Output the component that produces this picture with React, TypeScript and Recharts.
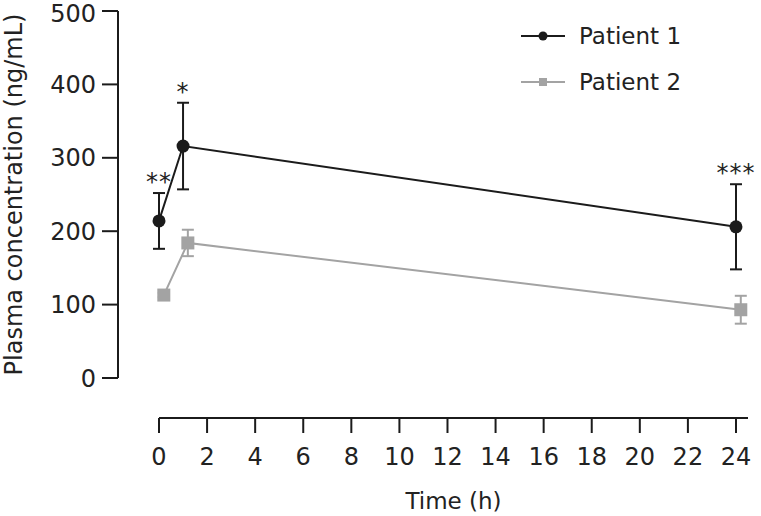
import React from 'react';
import { ComposedChart, Line, XAxis, YAxis, ErrorBar, Scatter, Legend } from 'recharts';

// Patient 1 (time in h, mean and SD in ng/mL)
const p1Times = [0, 1, 24];
const p1Means = [214, 316, 206];
const p1Sd = [38, 59, 58];

// Patient 2 (slightly offset in time for clarity)
const p2Times = [0.2, 1.2, 24.2];
const p2Means = [113, 184, 93];
const p2Sd = [3, 18, 19];

const sigLabels = ['**', '*', '***'];

const xTicks = [0, 2, 4, 6, 8, 10, 12, 14, 16, 18, 20, 22, 24];
const yTicks = [0, 100, 200, 300, 400, 500];

const seriesNames = ['Patient 1', 'Patient 2'];

const BLACK = '#1b1b1b';
const GRAY = '#a3a3a3';
const TEXT = '#222222';
const FONT = "'DejaVu Sans', sans-serif";

const p1Data = p1Times.map((t, i) => ({ time: t, value: p1Means[i], sd: p1Sd[i] }));
const p2Data = p2Times.map((t, i) => ({ time: t, value: p2Means[i], sd: p2Sd[i] }));
const sigData = p1Times.map((t, i) => ({ time: t, upper: p1Means[i] + p1Sd[i], sig: sigLabels[i] }));

const CircleDot = (props: any) => {
  const { cx, cy, index } = props;
  if (cx == null || cy == null) return <g key={`c${index}`} />;
  return <circle key={`c${index}`} cx={cx} cy={cy} r={6.5} fill={BLACK} stroke="none" />;
};

const SquareDot = (props: any) => {
  const { cx, cy, index } = props;
  if (cx == null || cy == null) return <g key={`s${index}`} />;
  return <rect key={`s${index}`} x={cx - 6.5} y={cy - 6.5} width={13} height={13} fill={GRAY} stroke="none" />;
};

const SigShape = (props: any) => {
  const { cx, cy, payload } = props;
  if (cx == null || cy == null) return <g />;
  return (
    <text x={cx} y={cy - 3} textAnchor="middle" fontSize={24} fill={TEXT} fontFamily={FONT} letterSpacing={1}>
      {payload.sig}
    </text>
  );
};

const renderLegend = () => (
  <div style={{ fontFamily: FONT }}>
    {seriesNames.map((name, i) => (
      <div key={name} style={{ display: 'flex', alignItems: 'center', height: 46 }}>
        <svg width={44} height={20} style={{ display: 'block' }}>
          <line x1={0} x2={44} y1={10} y2={10} stroke={i === 0 ? BLACK : GRAY} strokeWidth={2} />
          {i === 0 ? (
            <circle cx={22} cy={10} r={4.5} fill={BLACK} />
          ) : (
            <rect x={18} y={6} width={8} height={8} fill={GRAY} />
          )}
        </svg>
        <span style={{ marginLeft: 14, fontSize: 23, color: TEXT, lineHeight: '46px' }}>{name}</span>
      </div>
    ))}
  </div>
);

// offset axis lines/ticks away from the plotting area (labels positioned via margins)
const css = `
.recharts-xAxis { transform: translate(0px, 40px); }
.recharts-yAxis { transform: translate(-41px, 0px); }
`;

export default function App() {
  return (
    <div style={{ position: 'absolute', left: 0, top: 0, width: 761, height: 516, background: '#fff', fontFamily: FONT }}>
      <style>{css}</style>
      <ComposedChart width={761} height={516} margin={{ top: 11, right: 13, bottom: 0, left: 0 }}>
        <XAxis
          type="number"
          dataKey="time"
          domain={[0, 24.5]}
          ticks={xTicks}
          height={138}
          tickSize={15}
          tickMargin={55}
          axisLine={{ stroke: BLACK, strokeWidth: 2 }}
          tickLine={{ stroke: BLACK, strokeWidth: 2 }}
          tick={{ fontSize: 24, fill: TEXT, fontFamily: FONT }}
          label={{ value: 'Time (h)', position: 'insideTop', offset: 115, fontSize: 23, fill: TEXT, fontFamily: FONT }}
        />
        <YAxis
          type="number"
          domain={[0, 500]}
          ticks={yTicks}
          width={159}
          tickSize={16}
          tickMargin={47}
          axisLine={{ stroke: BLACK, strokeWidth: 2 }}
          tickLine={{ stroke: BLACK, strokeWidth: 2 }}
          tick={{ fontSize: 24, fill: TEXT, fontFamily: FONT }}
          label={{
            value: 'Plasma concentration (ng/mL)',
            angle: -90,
            position: 'insideLeft',
            offset: 13,
            fontSize: 24,
            fill: TEXT,
            fontFamily: FONT,
            style: { textAnchor: 'middle' },
          }}
        />
        <Legend
          content={renderLegend}
          layout="vertical"
          align="center"
          verticalAlign="middle"
          wrapperStyle={{ left: 521, top: 13, width: 220 }}
        />
        <Line
          data={p2Data}
          dataKey="value"
          name={seriesNames[1]}
          stroke={GRAY}
          strokeWidth={2}
          dot={SquareDot}
          activeDot={false}
          isAnimationActive={false}
        >
          <ErrorBar dataKey="sd" direction="y" width={6} strokeWidth={2} stroke={GRAY} />
        </Line>
        <Line
          data={p1Data}
          dataKey="value"
          name={seriesNames[0]}
          stroke={BLACK}
          strokeWidth={2}
          dot={CircleDot}
          activeDot={false}
          isAnimationActive={false}
        >
          <ErrorBar dataKey="sd" direction="y" width={6} strokeWidth={2} stroke={BLACK} />
        </Line>
        <Scatter
          data={sigData}
          dataKey="upper"
          shape={SigShape}
          legendType="none"
          isAnimationActive={false}
        />
      </ComposedChart>
    </div>
  );
}
